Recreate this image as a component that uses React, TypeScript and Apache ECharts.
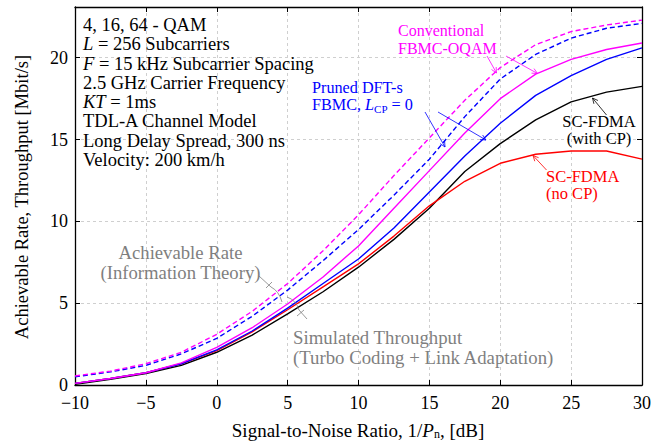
import React, { useEffect, useRef } from "react";
import * as echarts from "echarts";

const snr = [-10, -7.5, -5, -2.5, 0, 2.5, 5, 7.5, 10, 12.5, 15, 17.5, 20, 22.5, 25, 27.5, 30];
const fbmcAchievable = [0.55, 0.85, 1.3, 2.0, 3.1, 4.5, 6.2, 8.2, 10.4, 12.8, 15.1, 17.4, 19.4, 20.8, 21.6, 22.0, 22.3];
const prunedAchievable = [0.5, 0.8, 1.2, 1.9, 2.85, 4.2, 5.8, 7.6, 9.5, 11.6, 13.8, 16.4, 18.7, 20.2, 21.2, 21.8, 22.1];
const fbmcSimulated = [0.1, 0.4, 0.75, 1.35, 2.3, 3.5, 4.95, 6.6, 8.5, 10.8, 13.1, 15.4, 17.5, 19.0, 19.9, 20.5, 20.9];
const prunedSimulated = [0.1, 0.4, 0.75, 1.3, 2.15, 3.3, 4.7, 6.2, 7.7, 9.6, 11.8, 14.0, 16.0, 17.7, 18.9, 19.9, 20.6];
const scfdmaNoCP = [0.1, 0.4, 0.75, 1.3, 2.1, 3.25, 4.6, 6.0, 7.4, 9.1, 10.95, 12.45, 13.55, 14.1, 14.3, 14.3, 13.8];
const scfdmaCP = [0.05, 0.35, 0.7, 1.2, 2.0, 3.05, 4.35, 5.7, 7.2, 8.9, 10.8, 13.05, 14.75, 16.2, 17.3, 17.9, 18.25];

const infoLines = [
  "4, 16, 64 - QAM",
  "{i|L} = 256 Subcarriers",
  "{i|F} = 15 kHz Subcarrier Spacing",
  "2.5 GHz Carrier Frequency",
  "{i|KT} = 1ms",
  "TDL-A Channel Model",
  "Long Delay Spread, 300 ns",
  "Velocity: 200 km/h",
];

const FONT = "Liberation Serif, Times New Roman, serif";

function zip(xs: number[], ys: number[]) {
  return xs.map((x, i) => [x, ys[i]]);
}

function arrow(x1: number, y1: number, x2: number, y2: number, color: string): any[] {
  const a = Math.atan2(y2 - y1, x2 - x1);
  const L = 6;
  const s = 0.45;
  return [
    { type: "line", shape: { x1, y1, x2, y2 }, style: { stroke: color, lineWidth: 0.8 }, z: 100 },
    {
      type: "polyline",
      shape: {
        points: [
          [x2 - L * Math.cos(a - s), y2 - L * Math.sin(a - s)],
          [x2, y2],
          [x2 - L * Math.cos(a + s), y2 - L * Math.sin(a + s)],
        ],
      },
      style: { stroke: color, lineWidth: 0.8, fill: "none" },
      z: 100,
    },
  ];
}

// text block whose first line is centred on yCenter
function label(text: string, x: number, yCenter: number, color: string, align: string, fs: number, lineHeight: number): any {
  return {
    type: "text",
    x,
    y: yCenter - lineHeight / 2,
    z: 100,
    style: {
      text,
      fill: color,
      fontFamily: FONT,
      fontSize: fs,
      lineHeight,
      align,
      verticalAlign: "top",
      rich: {
        i: { fontStyle: "italic", fontFamily: FONT, fontSize: fs, fill: color, lineHeight },
        sub: { fontFamily: FONT, fontSize: 11, fill: color, padding: [7, 0, 0, 0], lineHeight: 11 },
      },
    },
  };
}

export default function App() {
  const ref = useRef<HTMLDivElement>(null);
  useEffect(() => {
    if (!ref.current) return;
    const chart = echarts.init(ref.current, null, { renderer: "svg" });
    const minus = (v: number) => String(v).replace("-", "\u2212");
    const axisLine = { show: true, onZero: false, lineStyle: { color: "#000", width: 1.3 } };
    const tick = { show: true, inside: true, length: 5, lineStyle: { color: "#000", width: 1 } };
    const split = { show: true, lineStyle: { color: "#cfcfcf", type: [3, 3], width: 1 } };
    const lab = { color: "#000", fontFamily: FONT, fontSize: 18 };
    const gray = "#7f7f7f";

    const graphics: any[] = [];
    graphics.push(label(infoLines.join("\n"), 83, 25, "#000", "left", 18.5, 19.3));
    graphics.push(label("Conventional\nFBMC-OQAM", 398, 31, "#ff00ff", "left", 16, 17.2));
    graphics.push(...arrow(487, 56, 496.5, 73, "#ff00ff"));
    graphics.push(...arrow(506, 56, 537.5, 73.5, "#ff00ff"));
    graphics.push(label("Pruned DFT-s\nFBMC, {i|L}{sub|CP} = 0", 312, 87.5, "#0000ff", "left", 16.2, 17.6));
    graphics.push(...arrow(425, 112, 445, 147, "#0000ff"));
    graphics.push(...arrow(438, 112, 486, 140, "#0000ff"));
    graphics.push(label("SC-FDMA\n(with CP)", 599, 121.5, "#000", "center", 16.5, 17.2));
    graphics.push(...arrow(606.5, 115, 592.5, 98, "#000"));
    graphics.push(label("SC-FDMA\n(no CP)", 546, 176.5, "#ff0000", "left", 16.5, 17.2));
    graphics.push(...arrow(546.5, 170, 533, 155.5, "#ff0000"));
    graphics.push(label("Achievable Rate\n(Information Theory)", 180.5, 252, gray, "center", 18.7, 20));
    graphics.push(label("Simulated Throughput\n(Turbo Coding + Link Adaptation)", 293, 337, gray, "left", 18.8, 20));
    // achievable-rate bracket
    graphics.push({ type: "line", shape: { x1: 259, y1: 276, x2: 271, y2: 287 }, style: { stroke: gray, lineWidth: 0.8 }, z: 100 });
    graphics.push({ type: "line", shape: { x1: 266, y1: 288, x2: 272, y2: 282 }, style: { stroke: gray, lineWidth: 0.8 }, z: 100 });
    graphics.push({
      type: "bezierCurve",
      shape: { x1: 271, y1: 287, cpx1: 279, cpy1: 291, x2: 282, y2: 302 },
      style: { stroke: gray, lineWidth: 0.8, fill: "none" },
      z: 100,
    });
    // simulated-throughput bracket
    graphics.push({
      type: "bezierCurve",
      shape: { x1: 287, y1: 297, cpx1: 296, cpy1: 300, x2: 299, y2: 310 },
      style: { stroke: gray, lineWidth: 0.8, fill: "none" },
      z: 100,
    });
    graphics.push({ type: "line", shape: { x1: 299, y1: 310, x2: 307, y2: 319 }, style: { stroke: gray, lineWidth: 0.8 }, z: 100 });
    graphics.push({ type: "line", shape: { x1: 297, y1: 316, x2: 304, y2: 310 }, style: { stroke: gray, lineWidth: 0.8 }, z: 100 });
    // axis titles
    graphics.push({
      type: "text",
      x: 22,
      y: 197,
      rotation: Math.PI / 2,
      style: { text: "Achievable Rate, Throughput [Mbit/s]", fill: "#000", fontFamily: FONT, fontSize: 18.5, align: "center", verticalAlign: "middle" },
    });
    graphics.push({
      type: "text",
      x: 358,
      y: 430,
      style: {
        text: "Signal-to-Noise Ratio, 1/{i|P}{sub|n}, [dB]",
        fill: "#000",
        fontFamily: FONT,
        fontSize: 19,
        align: "center",
        verticalAlign: "middle",
        rich: {
          i: { fontStyle: "italic", fontFamily: FONT, fontSize: 19, fill: "#000" },
          sub: { fontFamily: FONT, fontSize: 12, fill: "#000", padding: [7, 0, 0, 0], lineHeight: 12 },
        },
      },
    });

    const line = (name: string, data: number[], color: string, dashed: boolean) => ({
      name,
      type: "line",
      data: zip(snr, data),
      showSymbol: false,
      symbol: "none",
      lineStyle: { color, width: 1.4, type: dashed ? [5, 3] : "solid" },
      z: 3,
    });

    chart.setOption({
      animation: false,
      backgroundColor: "#fff",
      grid: { left: 75, right: 21, top: 7, bottom: 58 },
      xAxis: [
        { type: "value", min: -10, max: 30, interval: 5, position: "bottom", axisLine, axisTick: tick, splitLine: split, axisLabel: { ...lab, margin: 9, formatter: minus } },
        { type: "value", min: -10, max: 30, interval: 5, position: "top", axisLine, axisTick: tick, splitLine: { show: false }, axisLabel: { show: false } },
      ],
      yAxis: [
        { type: "value", min: 0, max: 23.1, interval: 5, position: "left", axisLine, axisTick: tick, splitLine: split, axisLabel: { ...lab, margin: 7, showMaxLabel: false } },
        { type: "value", min: 0, max: 23.1, interval: 5, position: "right", axisLine, axisTick: tick, splitLine: { show: false }, axisLabel: { show: false } },
      ],
      series: [
        line("SC-FDMA (with CP)", scfdmaCP, "#000000", false),
        line("SC-FDMA (no CP)", scfdmaNoCP, "#ff0000", false),
        line("Pruned DFT-s FBMC simulated", prunedSimulated, "#0000ff", false),
        line("FBMC-OQAM simulated", fbmcSimulated, "#ff00ff", false),
        line("Pruned DFT-s FBMC achievable", prunedAchievable, "#0000ff", true),
        line("FBMC-OQAM achievable", fbmcAchievable, "#ff00ff", true),
      ],
      graphic: graphics,
    });
    return () => chart.dispose();
  }, []);
  return <div ref={ref} style={{ position: "fixed", left: 0, top: 0, width: 663, height: 443 }} />;
}
